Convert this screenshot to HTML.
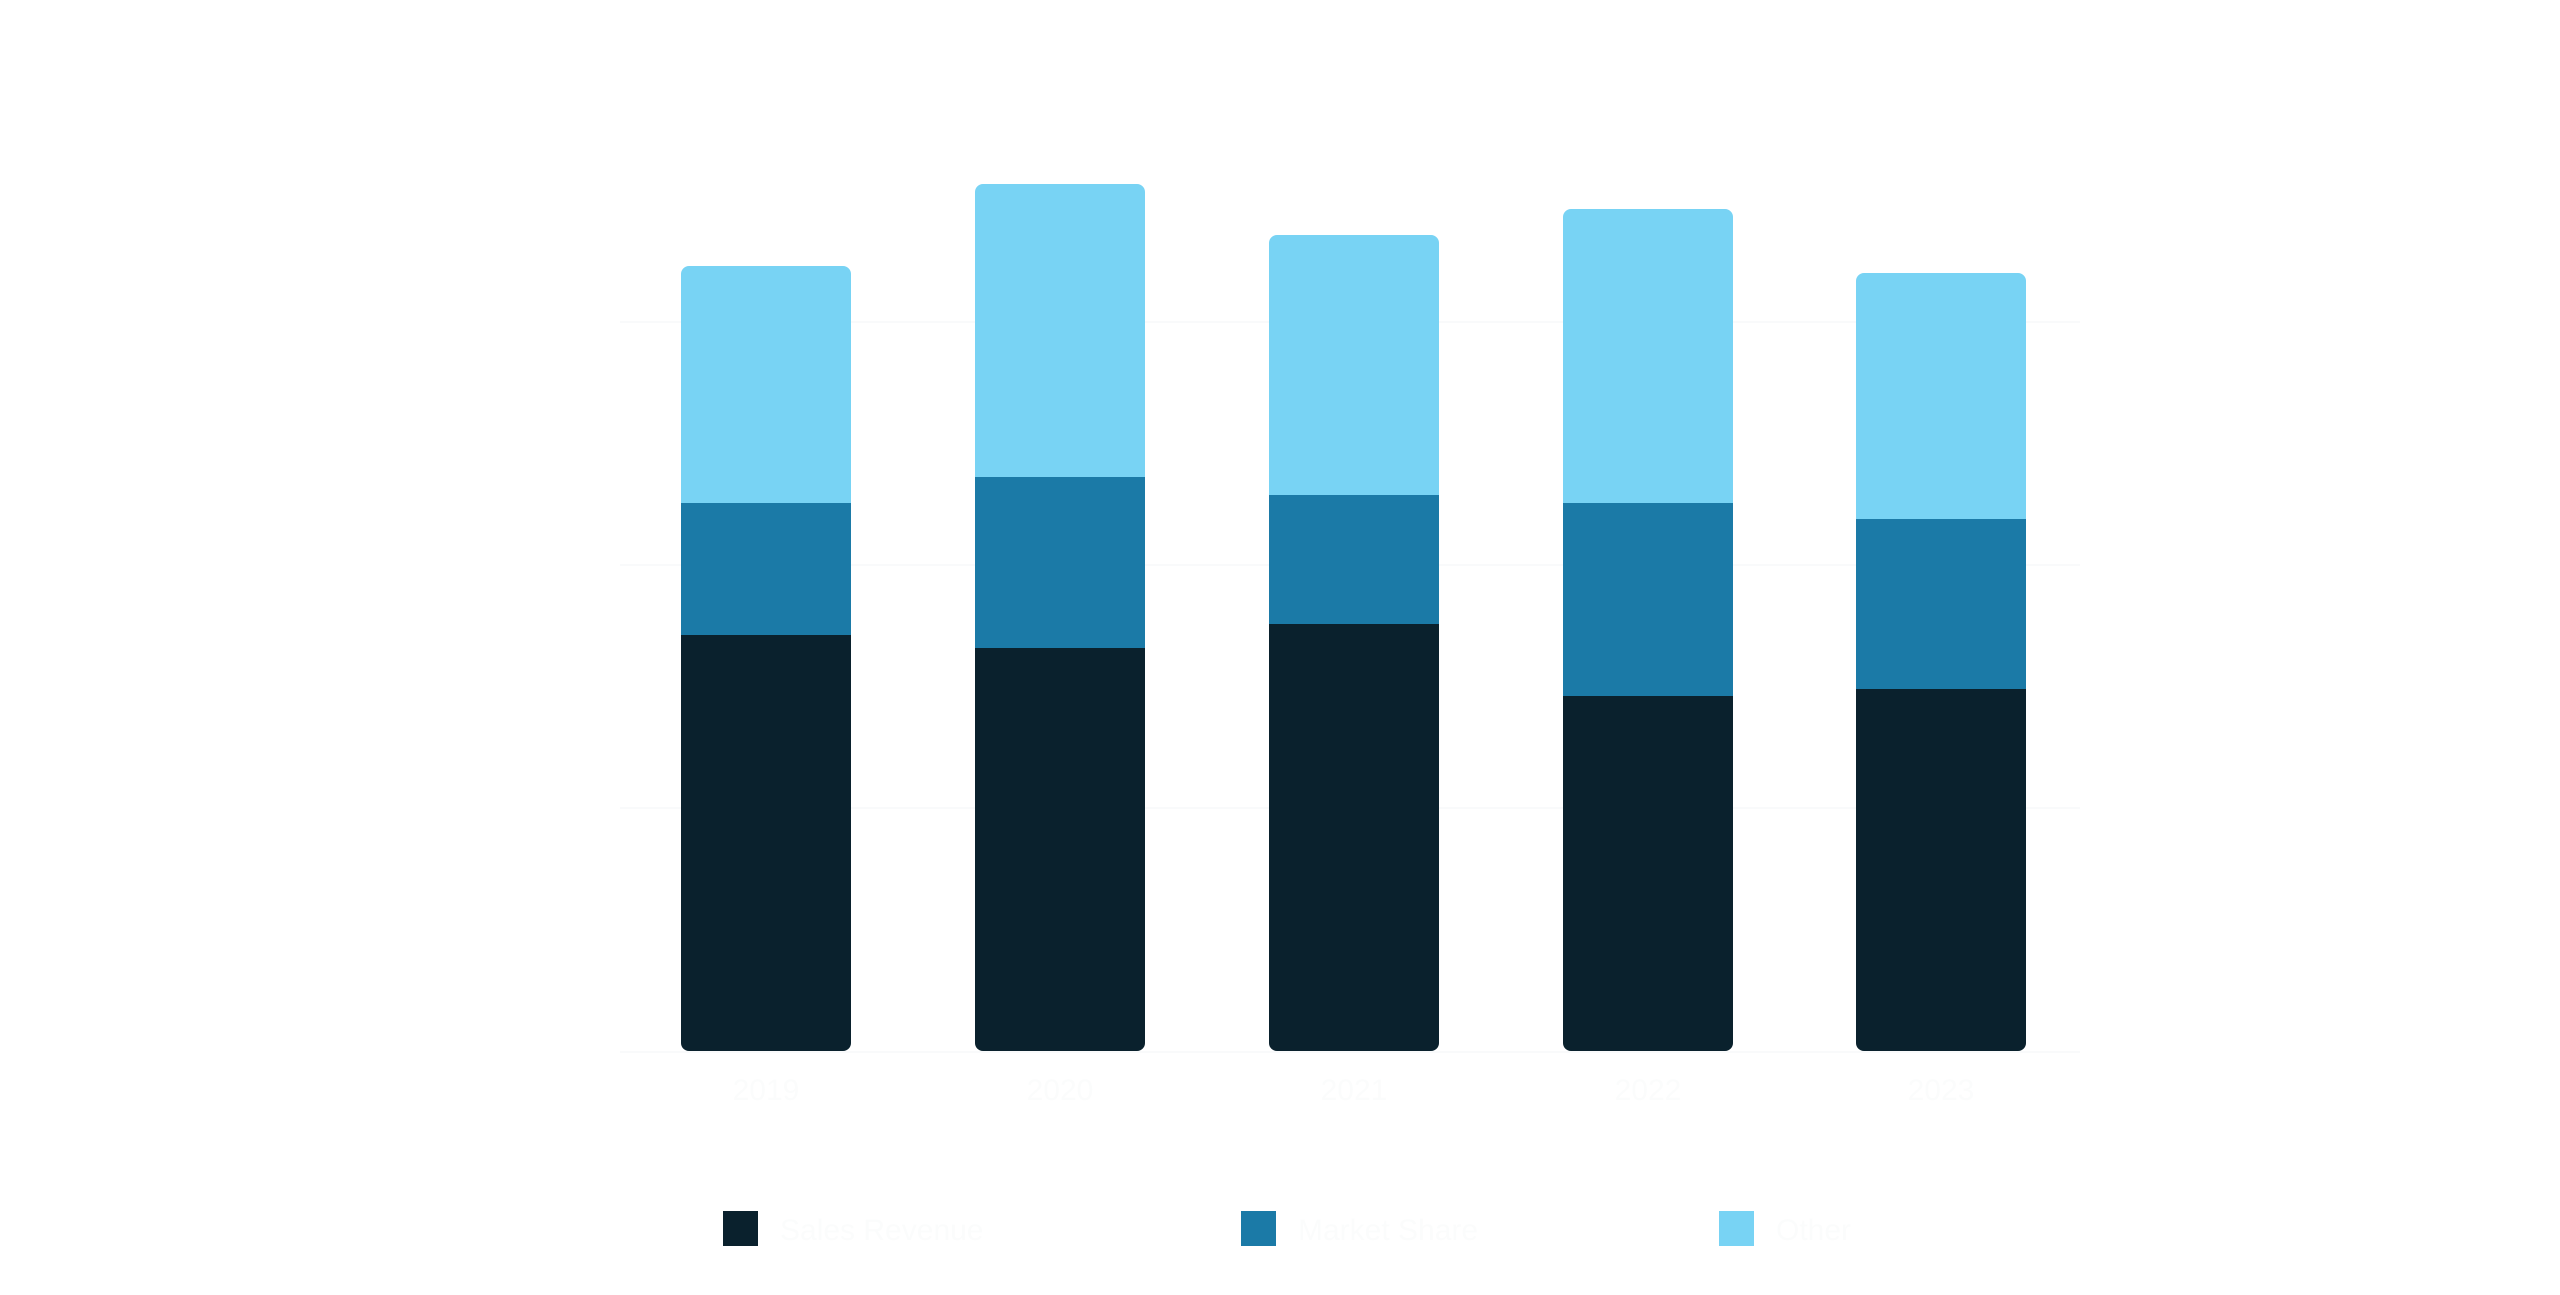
<!DOCTYPE html>
<html><head><meta charset="utf-8"><style>
html,body{margin:0;padding:0;background:#fff;width:2560px;height:1295px;overflow:hidden;font-family:"Liberation Sans",sans-serif}
</style></head><body>
<svg width="2560" height="1295" xmlns="http://www.w3.org/2000/svg">
<defs>
<clipPath id="c1"><rect x="681" y="266" width="170" height="785" rx="8"/></clipPath>
<clipPath id="c2"><rect x="975" y="184" width="170" height="867" rx="8"/></clipPath>
<clipPath id="c3"><rect x="1269" y="235" width="170" height="816" rx="8"/></clipPath>
<clipPath id="c4"><rect x="1563" y="209" width="170" height="842" rx="8"/></clipPath>
<clipPath id="c5"><rect x="1856" y="273" width="170" height="778" rx="8"/></clipPath>
</defs>
<g stroke="#f9fafb" stroke-width="2">
<line x1="620" y1="322" x2="2080" y2="322"/>
<line x1="620" y1="565" x2="2080" y2="565"/>
<line x1="620" y1="808" x2="2080" y2="808"/>
<line x1="620" y1="1052" x2="2080" y2="1052"/>
</g>
<g clip-path="url(#c1)"><rect x="681" y="266" width="170" height="237" fill="#78d3f4"/><rect x="681" y="503" width="170" height="132" fill="#1b7aa7"/><rect x="681" y="635" width="170" height="416" fill="#0a212d"/></g>
<g clip-path="url(#c2)"><rect x="975" y="184" width="170" height="293" fill="#78d3f4"/><rect x="975" y="477" width="170" height="171" fill="#1b7aa7"/><rect x="975" y="648" width="170" height="403" fill="#0a212d"/></g>
<g clip-path="url(#c3)"><rect x="1269" y="235" width="170" height="260" fill="#78d3f4"/><rect x="1269" y="495" width="170" height="129" fill="#1b7aa7"/><rect x="1269" y="624" width="170" height="427" fill="#0a212d"/></g>
<g clip-path="url(#c4)"><rect x="1563" y="209" width="170" height="294" fill="#78d3f4"/><rect x="1563" y="503" width="170" height="193" fill="#1b7aa7"/><rect x="1563" y="696" width="170" height="355" fill="#0a212d"/></g>
<g clip-path="url(#c5)"><rect x="1856" y="273" width="170" height="246" fill="#78d3f4"/><rect x="1856" y="519" width="170" height="170" fill="#1b7aa7"/><rect x="1856" y="689" width="170" height="362" fill="#0a212d"/></g>
<g fill="#fbfcfc" font-size="30" text-anchor="middle">
<text x="766" y="1100">2019</text><text x="1060" y="1100">2020</text><text x="1354" y="1100">2021</text><text x="1648" y="1100">2022</text><text x="1941" y="1100">2023</text>
</g>
<rect x="723" y="1211" width="35" height="35" fill="#0a212d"/>
<rect x="1241" y="1211" width="35" height="35" fill="#1b7aa7"/>
<rect x="1719" y="1211" width="35" height="35" fill="#78d3f4"/>
<g fill="#fbfcfc" font-size="30">
<text x="780" y="1240">Sales Revenue</text>
<text x="1298" y="1240">Market Share</text>
<text x="1776" y="1240">Other</text>
</g>
</svg>
</body></html>
